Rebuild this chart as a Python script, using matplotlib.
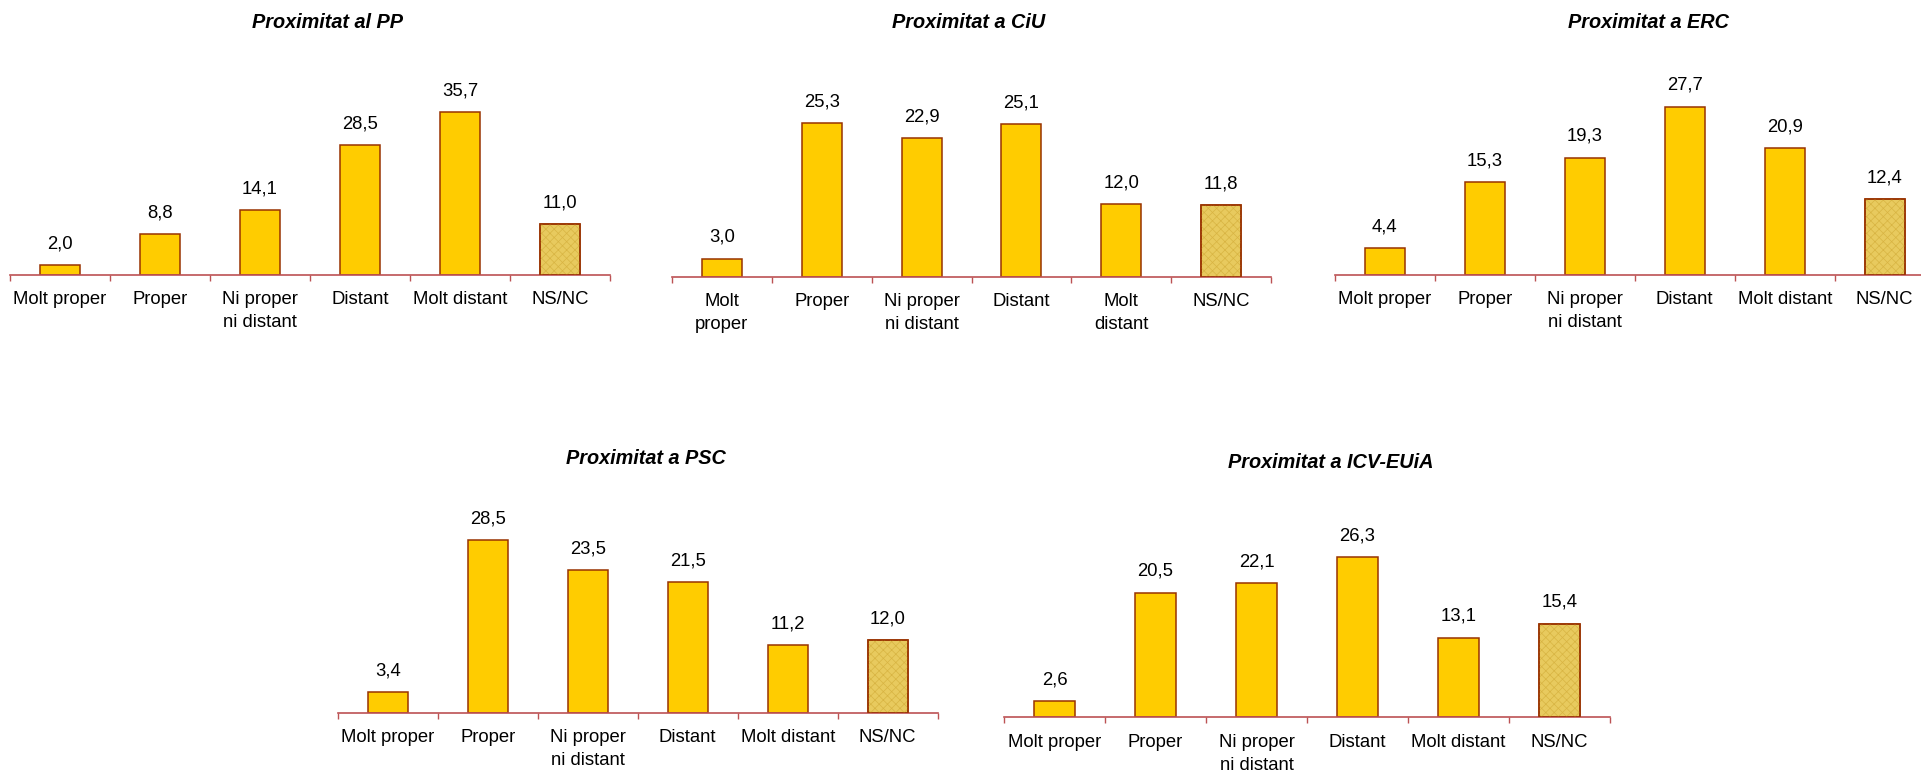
import matplotlib
matplotlib.use("Agg")
import matplotlib.pyplot as plt

plt.rcParams['font.family'] = ['Liberation Sans', 'DejaVu Sans']
plt.rcParams['hatch.linewidth'] = 0.5

# ---- data ----
titles = ["Proximitat al PP", "Proximitat a CiU", "Proximitat a ERC",
          "Proximitat a PSC", "Proximitat a ICV-EUiA"]
cats_std = ["Molt proper", "Proper", "Ni proper\nni distant", "Distant", "Molt distant", "NS/NC"]
cats_ciu = ["Molt\nproper", "Proper", "Ni proper\nni distant", "Distant", "Molt\ndistant", "NS/NC"]
pp = [2.0, 8.8, 14.1, 28.5, 35.7, 11.0]
ciu = [3.0, 25.3, 22.9, 25.1, 12.0, 11.8]
erc = [4.4, 15.3, 19.3, 27.7, 20.9, 12.4]
psc = [3.4, 28.5, 23.5, 21.5, 11.2, 12.0]
icv = [2.6, 20.5, 22.1, 26.3, 13.1, 15.4]
ymax = [40, 30, 30, 30, 30]

series = [pp, ciu, erc, psc, icv]
cat_sets = [cats_std, cats_ciu, cats_std, cats_std, cats_std]

# ---- layout (pixels) ----
W, H = 1921, 776
# (x_left, x_right, y_axis_line)
boxes = [(10, 610, 274.5), (672, 1271, 276.7), (1334.7, 1934.7, 274.7),
         (337.7, 937.7, 712.7), (1004, 1610, 717)]
plot_h = 182
title_pos = [(327, 22.7), (969, 22.5), (1648, 22.5), (645.6, 459), (1331, 463)]

fill = '#FFCC00'
fill_ns = '#E8CA5E'
hatch_col = '#D8B443'
edge = '#993300'
axis_col = '#BC5254'

fig = plt.figure(figsize=(W / 100, H / 100), dpi=100)

for i in range(5):
    x0, x1, yb = boxes[i]
    ax = fig.add_axes([x0 / W, (H - yb) / H, (x1 - x0) / W, plot_h / H])
    vals = series[i]
    cats = cat_sets[i]
    n = len(vals)
    xs = list(range(n))
    colors = [fill] * (n - 1) + [fill_ns]
    ax.bar(xs, vals, width=0.4, color=colors, edgecolor=edge, linewidth=1.1, zorder=2)
    # texture on NS/NC bar
    ax.bar([xs[-1]], [vals[-1]], width=0.4, facecolor='none', edgecolor=hatch_col,
           hatch='xxxx', linewidth=0, zorder=3)
    ax.bar([xs[-1]], [vals[-1]], width=0.4, facecolor='none', edgecolor=edge,
           linewidth=1.1, zorder=4)
    for x, v in zip(xs, vals):
        ax.annotate(f"{v:.1f}".replace('.', ','), (x, v), xytext=(0, 12),
                    textcoords='offset points', ha='center', va='baseline',
                    fontsize=13.3, color='black')
    ax.set_xlim(-0.5, n - 0.5)
    ax.set_ylim(0, ymax[i])
    for s in ['top', 'right', 'left']:
        ax.spines[s].set_visible(False)
    ax.spines['bottom'].set_color(axis_col)
    ax.spines['bottom'].set_linewidth(1.2)
    ax.set_yticks([])
    ax.set_xticks([b - 0.5 for b in range(n + 1)])
    ax.set_xticklabels([])
    ax.tick_params(axis='x', which='major', length=4, width=1.0, color=axis_col, direction='out')
    ax.set_xticks(xs, minor=True)
    ax.set_xticklabels(cats, minor=True, fontsize=13.3, va='top', linespacing=1.45)
    ax.tick_params(axis='x', which='minor', length=0, pad=12)
    ax.patch.set_alpha(0)

    tx, ty = title_pos[i]
    fig.text(tx / W, 1 - ty / H, titles[i], ha='center', va='center',
             fontsize=14.3, fontweight='bold', fontstyle='italic')

fig.savefig("out.png", dpi=100)
